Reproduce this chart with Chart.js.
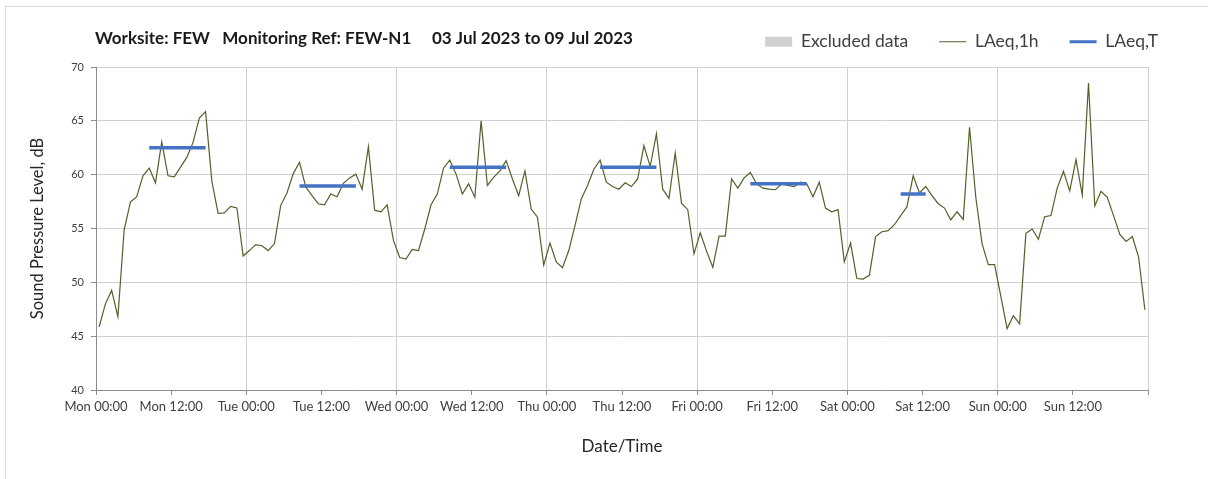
<!DOCTYPE html>
<html>
<head>
<meta charset="utf-8">
<script src="https://cdn.jsdelivr.net/npm/chart.js@4.4.0/dist/chart.umd.min.js"></script>
<style>
  html, body { margin: 0; padding: 0; background: #fff; overflow: hidden; }
  #frame { position: absolute; left: 5px; top: 6px; width: 1400px; height: 700px; border: 1px solid #d9d9d9; }
  #chart { position: absolute; left: 0; top: 0; }
</style>
</head>
<body>
<div id="frame"></div>
<canvas id="chart" width="1208" height="479"></canvas>
<script>
// header text
var chartTitle = 'Worksite: FEW   Monitoring Ref: FEW-N1     03 Jul 2023 to 09 Jul 2023';

// x tick labels, one every 12 hours (Mon 00:00 .. next Mon 00:00)
var tickLabels = ['Mon 00:00', 'Mon 12:00', 'Tue 00:00', 'Tue 12:00', 'Wed 00:00', 'Wed 12:00',
    'Thu 00:00', 'Thu 12:00', 'Fri 00:00', 'Fri 12:00', 'Sat 00:00', 'Sat 12:00',
    'Sun 00:00', 'Sun 12:00', ''];

// hourly LAeq,1h values, 24 per day
var laeq1h = [
    45.85, 48.0, 49.25, 46.8, 54.9, 57.45, 57.95, 59.9, 60.6, 59.25, 63.05, 59.9, 59.8, 60.7, 61.6, 63.0, 65.25, 65.85, 59.4, 56.4, 56.45, 57.05, 56.9, 52.45, // Mon
    52.95, 53.5, 53.4, 52.95, 53.6, 57.15, 58.3, 60.1, 61.15, 58.85, 58.05, 57.3, 57.2, 58.2, 57.95, 59.2, 59.7, 60.05, 58.65, 62.6, 56.7, 56.55, 57.2, 53.9, // Tue
    52.3, 52.15, 53.05, 52.95, 54.95, 57.2, 58.2, 60.6, 61.35, 60.05, 58.2, 59.15, 57.9, 65.0, 59.0, 59.75, 60.35, 61.3, 59.6, 58.05, 60.35, 56.8, 56.05, 51.6, // Wed
    53.65, 51.9, 51.35, 52.95, 55.3, 57.75, 59.0, 60.5, 61.35, 59.3, 58.9, 58.65, 59.25, 58.9, 59.6, 62.7, 60.75, 63.8, 58.65, 57.8, 62.0, 57.35, 56.75, 52.65, // Thu
    54.6, 52.9, 51.4, 54.3, 54.3, 59.6, 58.75, 59.7, 60.2, 59.15, 58.75, 58.65, 58.6, 59.15, 59.0, 58.9, 59.3, 59.15, 57.95, 59.3, 56.9, 56.55, 56.75, 51.9, // Fri
    53.65, 50.35, 50.3, 50.65, 54.25, 54.7, 54.8, 55.35, 56.2, 57.0, 59.9, 58.3, 58.9, 58.05, 57.3, 56.9, 55.8, 56.55, 55.85, 64.4, 57.9, 53.6, 51.65, 51.65, // Sat
    48.7, 45.7, 46.9, 46.15, 54.55, 54.95, 54.0, 56.1, 56.2, 58.75, 60.3, 58.5, 61.4, 58.1, 68.5, 57.1, 58.45, 57.9, 56.2, 54.45, 53.8, 54.25, 52.35, 47.45  // Sun
];

// LAeq,T for the working period of each day (Mon..Sat), period start/end hour
var laeqT = [62.5, 58.95, 60.7, 60.7, 59.15, 58.2];
var periodStart = [8, 8, 8, 8, 8, 8];
var periodEnd = [18, 18, 18, 18, 18, 13];

// hourly values are plotted at the middle of their hour
var hourlyPoints = laeq1h.map(function (v, i) { return { x: i + 0.5, y: v }; });

var periodPoints = [];
laeqT.forEach(function (v, d) {
    periodPoints.push({ x: d * 24 + periodStart[d] + 0.5, y: v });
    periodPoints.push({ x: d * 24 + periodEnd[d] - 0.5, y: v });
    periodPoints.push({ x: d * 24 + periodEnd[d], y: null });
});

var font = 'Lato, "Open Sans", sans-serif';

var headerTitle = {
    id: 'headerTitle',
    afterDraw: function (chart) {
        var ctx = chart.ctx;
        ctx.save();
        ctx.font = 'bold 17px ' + font;
        ctx.fillStyle = '#1a1a1a';
        ctx.textBaseline = 'middle';
        ctx.textAlign = 'left';
        ctx.fillText(chartTitle, 95, 39);
        ctx.restore();
    }
};

new Chart(document.getElementById('chart'), {
    type: 'line',
    data: {
        datasets: [{
            type: 'bar',
            label: 'Excluded data',
            data: [],
            backgroundColor: '#d0d0d0',
            borderWidth: 0,
            pointStyle: 'rect',
            order: 2
        }, {
            label: 'LAeq,1h',
            data: hourlyPoints,
            borderColor: '#4f6228',
            backgroundColor: '#4f6228',
            borderWidth: 1.2,
            pointRadius: 0,
            pointStyle: 'line',
            pointBorderWidth: 1.2,
            tension: 0,
            order: 1
        }, {
            label: 'LAeq,T',
            data: periodPoints,
            borderColor: '#4472c4',
            backgroundColor: '#4472c4',
            borderWidth: 3.5,
            borderCapStyle: 'butt',
            pointRadius: 0,
            pointStyle: 'line',
            pointBorderWidth: 3,
            spanGaps: false,
            order: 0
        }]
    },
    options: {
        responsive: false,
        animation: false,
        devicePixelRatio: 1,
        layout: { padding: { top: 2, left: 20, right: 19, bottom: 0 } },
        plugins: {
            // empty title used only as a small gap between legend and plot
            title: { display: true, text: '', weight: 500, padding: 0, font: { size: 5, lineHeight: 1.3 } },
            tooltip: { enabled: false },
            legend: {
                position: 'top',
                align: 'end',
                labels: {
                    usePointStyle: true,
                    pointStyleWidth: 27,
                    boxHeight: 10,
                    padding: 31,
                    color: '#404040',
                    font: { family: font, size: 17.5 },
                    sort: function (a, b) { return a.datasetIndex - b.datasetIndex; }
                }
            }
        },
        scales: {
            x: {
                type: 'linear',
                min: 0,
                max: 168,
                offset: false,
                afterFit: function (scale) {
                    scale.height = 89;
                    scale.paddingRight = 60;
                },
                ticks: {
                    stepSize: 12,
                    autoSkip: false,
                    maxRotation: 0,
                    padding: 4,
                    color: '#404040',
                    font: { family: font, size: 13 },
                    callback: function (value) { return tickLabels[value / 12]; }
                },
                grid: {
                    offset: false,
                    color: function (c) { return c.tick && c.tick.value % 24 === 0 ? '#d0d0d0' : 'rgba(0,0,0,0)'; },
                    tickColor: '#8c8c8c',
                    tickLength: 5
                },
                border: { color: '#8c8c8c' },
                title: {
                    display: true,
                    text: 'Date/Time',
                    color: '#262626',
                    font: { family: font, size: 17 },
                    padding: { bottom: 22 }
                }
            },
            y: {
                min: 40,
                max: 70,
                afterFit: function (scale) {
                    scale.width = 76;
                },
                ticks: {
                    stepSize: 5,
                    padding: 7,
                    color: '#404040',
                    font: { family: font, size: 11 }
                },
                grid: {
                    color: '#d0d0d0',
                    tickColor: '#8c8c8c',
                    tickLength: 5
                },
                border: { color: '#8c8c8c' },
                title: {
                    display: true,
                    text: 'Sound Pressure Level, dB',
                    color: '#262626',
                    font: { family: font, size: 16.5 },
                    padding: { top: 8 }
                }
            }
        }
    },
    plugins: [headerTitle]
});
</script>
</body>
</html>
